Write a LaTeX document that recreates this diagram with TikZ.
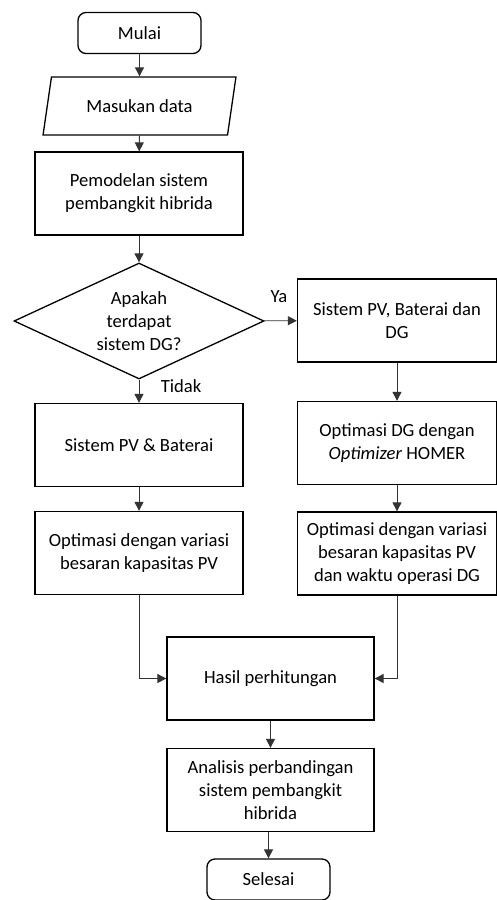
\documentclass[tikz,border=0pt]{standalone}
\usepackage{fontspec}
\setmainfont{Carlito}
\usetikzlibrary{shapes.geometric,arrows.meta}
\begin{document}
\begin{tikzpicture}[x=1pt,y=-1pt,
        txt/.style={font=\fontsize{18.6}{23}\selectfont,align=center},
        box/.style={txt,draw,line width=1.3pt,minimum width=208pt,minimum height=83pt,inner sep=2pt},
        rbox/.style={box,minimum width=199pt},
        term/.style={txt,draw,line width=1.3pt,rounded corners=8pt,minimum width=123pt,minimum height=41pt},
        io/.style={txt,draw,line width=1.3pt,trapezium,trapezium stretches=true,trapezium left angle=71,trapezium right angle=109,minimum width=193pt,minimum height=58pt,inner sep=1pt},
        dec/.style={txt,draw,line width=1.3pt,diamond,aspect=2.15,minimum width=250pt,minimum height=116pt,inner sep=0pt},
        line/.style={draw=black!80,line width=0.9pt},
        arr/.style={line,-{Triangle[length=9pt,width=9pt]}}]
    \useasboundingbox (0,0) rectangle (496,900);
    %% main column
    \node[term] (mulai) at (139.5,33) {Mulai};
    \node[io] (input) at (139.5,106) {Masukan data};
    \node[box] (model) at (139,193.5) {Pemodelan sistem\\pembangkit hibrida};
    \node[dec] (cek) at (139,321) {Apakah\\terdapat\\sistem DG?};
    %% left branch
    \node[box] (pvbat) at (139,445) {Sistem PV \& Baterai};
    \node[box] (optpv) at (139,553) {Optimasi dengan variasi\\besaran kapasitas PV};
    %% right branch
    \node[rbox] (pvdg) at (397,320.5) {Sistem PV, Baterai dan\\DG};
    \node[rbox] (homer) at (397,443) {Optimasi DG dengan\\\textit{Optimizer} HOMER};
    \node[rbox] (optdg) at (397,553.5) {Optimasi dengan variasi\\besaran kapasitas PV\\dan waktu operasi DG};
    %% end
    \node[box,minimum width=207pt] (hasil) at (270.5,678.5) {Hasil perhitungan};
    \node[box,minimum width=207pt] (analisis) at (270.5,790) {Analisis perbandingan\\sistem pembangkit\\hibrida};
    \node[term] (selesai) at (268.5,879.5) {Selesai};
    \node[txt] (ya) at (279,297) {Ya};
    \node[txt] (tidak) at (181,386) {Tidak};
    \draw[arr] (mulai) -- (input);
    \draw[arr] (input) -- (model);
    \draw[arr] (model) -- (cek);
    \draw[arr] (cek) -- (pvbat);
    \draw[arr] (cek) -- (pvdg);
    \draw[arr] (pvbat) -- (optpv);
    \draw[arr] (pvdg) -- (homer);
    \draw[arr] (homer) -- (optdg);
    \draw[arr] (optpv.south) |- (hasil.west);
    \draw[arr] (optdg.south) |- (hasil.east);
    \draw[arr] (hasil) -- (analisis);
    \draw[arr] (analisis.south -| selesai) -- (selesai);
\end{tikzpicture}
\end{document}
